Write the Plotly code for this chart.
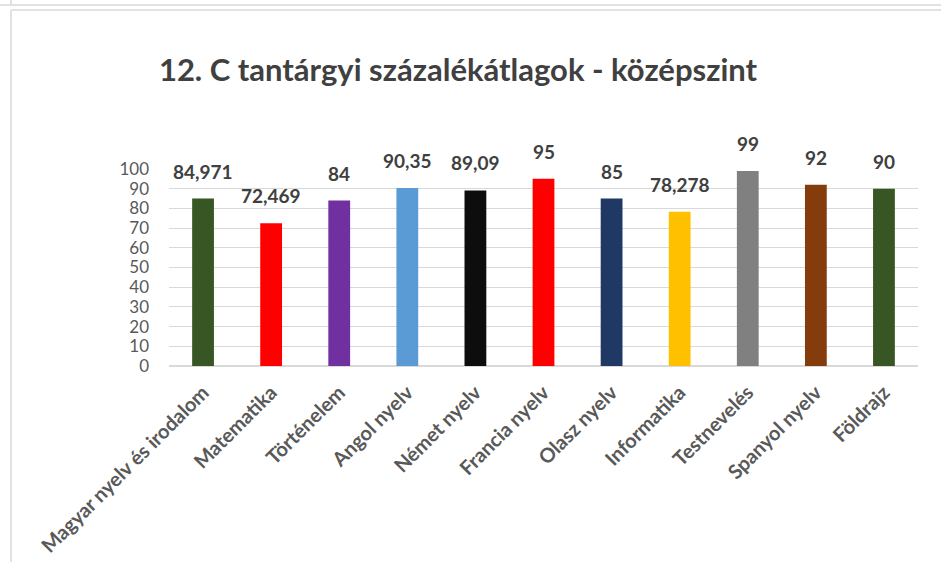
import plotly.graph_objects as go

categories = ["Magyar nyelv és irodalom", "Matematika", "Történelem", "Angol nyelv",
              "Német nyelv", "Francia nyelv", "Olasz nyelv", "Informatika",
              "Testnevelés", "Spanyol nyelv", "Földrajz"]
values = [84.971, 72.469, 84, 90.35, 89.09, 95, 85, 78.278, 99, 92, 90]
labels = ["84,971", "72,469", "84", "90,35", "89,09", "95", "85", "78,278", "99", "92", "90"]
colors = ["#375623", "#FF0000", "#7030A0", "#5B9BD5", "#0D0D0D", "#FF0000",
          "#203864", "#FFC000", "#808080", "#843C0C", "#375623"]
y_ticks = list(range(0, 101, 10))

W, H = 941, 562
ml, mr, mt, mb = 169, 23, 169, 196
pw, ph = W - ml - mr, H - mt - mb

def px(x):
    return (x - ml) / pw

def py(y):
    return (H - mb - y) / ph

fig = go.Figure(go.Bar(
    x=categories, y=values, marker_color=colors, marker_line_width=0,
    hoverinfo="skip",
))

for c, v, t in zip(categories, values, labels):
    fig.add_annotation(x=c, y=v, text="<b>" + t + "</b>", showarrow=False,
                       xanchor="center", yanchor="bottom", yshift=14,
                       font=dict(family="Lato", size=19, color="#404040"))

fig.update_layout(
    width=W, height=H,
    margin=dict(l=ml, r=mr, t=mt, b=mb, pad=0, autoexpand=False),
    paper_bgcolor="white", plot_bgcolor="white",
    bargap=0.68,
    showlegend=False,
    title=dict(text="<b>12. C tantárgyi százalékátlagok - középszint</b>",
               font=dict(family="Lato", size=31, color="#404040"),
               x=458 / W, xanchor="center", y=1 - 70 / H, yanchor="middle"),
)
fig.update_yaxes(range=[0, 100], tickvals=y_ticks, showgrid=True, gridcolor="#D9D9D9",
                 gridwidth=1, zeroline=True, zerolinecolor="#D9D9D9", showline=False,
                 tickfont=dict(family="Lato", size=17, color="#595959"),
                 ticks="", ticklabelstandoff=19, automargin=False)
fig.update_xaxes(tickangle=-45, showgrid=False, showline=False,
                 tickfont=dict(family="Lato", size=20, color="#595959", weight="bold"),
                 ticks="", ticklabelstandoff=10, automargin=False)

line = dict(color="#D9D9D9", width=1.5)
shapes = [
    dict(type="line", xref="paper", yref="paper", x0=px(0), x1=px(W), y0=py(5), y1=py(5), line=line),
    dict(type="line", xref="paper", yref="paper", x0=px(11), x1=px(W), y0=py(10), y1=py(10), line=line),
    dict(type="line", xref="paper", yref="paper", x0=px(11), x1=px(11), y0=py(10), y1=py(H), line=line),
    dict(type="line", xref="paper", yref="paper", x0=px(11), x1=px(11), y0=py(0), y1=py(5), line=line),
]
fig.update_layout(shapes=shapes)

fig.write_html("out.html", config={"displayModeBar": False},
               post_script="document.body.style.margin='0';")
